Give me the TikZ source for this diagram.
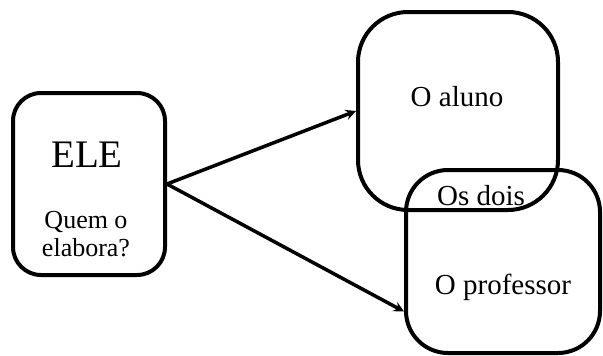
\documentclass[tikz,border=0pt]{standalone}
\usepackage{fontspec}
\setmainfont{Liberation Serif}
\usetikzlibrary{arrows}
\usetikzlibrary{positioning}
\tikzset{caixa/.style={draw,line width=4pt,rounded corners=#1,inner sep=0pt}}
\tikzset{rotulo/.style={inner sep=0pt,align=center}}

\begin{document}
\begin{tikzpicture}[
x = 1pt, y = -1pt,
> = stealth, % arrow head style
line width = 3.5pt
]
\useasboundingbox (0,0) rectangle (603,356);

\node[caixa=28pt, minimum width=152pt, minimum height=182pt] (ele) at (89,184) {};
\node[caixa=50pt, minimum width=200pt, minimum height=198pt] (aluno) at (458,111) {};
\node[caixa=42pt, minimum width=194pt, minimum height=183pt] (prof) at (503,261.5) {};

\node[rotulo, font=\fontsize{39}{42}\selectfont] (tele) at (87,155) {ELE};
\node[rotulo, font=\fontsize{26}{28}\selectfont] (tquem) at (86,234) {Quem o\\elabora?};
\node[rotulo, font=\fontsize{29}{32}\selectfont] (taluno) at (457,97) {O aluno};
\node[rotulo, font=\fontsize{29}{32}\selectfont] (tdois) at (481,196) {Os dois};
\node[rotulo, font=\fontsize{29}{32}\selectfont] (tprof) at (503,287) {O professor};

\path[->] (ele.east) edge (aluno.west);
\path[->] (ele.east) edge ([yshift=-50pt]prof.west);
\end{tikzpicture}
\end{document}
